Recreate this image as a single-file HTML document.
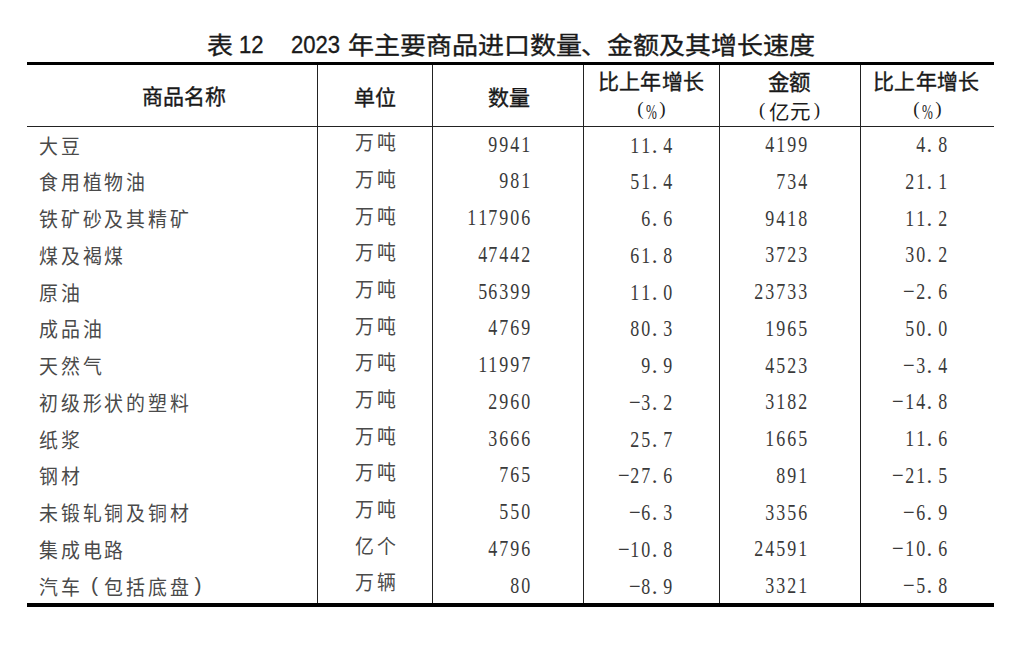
<!DOCTYPE html>
<html lang="zh-CN"><head><meta charset="utf-8"><style>
html,body{margin:0;padding:0;background:#fff;}
body{width:1023px;height:653px;position:relative;overflow:hidden;}
.t{position:absolute;white-space:nowrap;color:#1c1c1c;line-height:1;}
.l{position:absolute;background:#222;}
.sa{font-family:"Liberation Sans",sans-serif;-webkit-text-stroke:0.35px #111;}
.se{font-family:"Liberation Serif",serif;}
.sn{font-family:"Liberation Sans",sans-serif;}
.nm{font-family:"Liberation Sans",sans-serif;font-size:21px;color:#4a4a4a;}
.c{width:21.8px;text-align:center;transform:scale(0.9,0.95);}
.un{font-family:"Liberation Sans",sans-serif;font-size:21px;color:#4a4a4a;}
.nu{font-family:"Liberation Serif",serif;font-size:23px;color:#3a3a3a;}
i{font-style:normal;display:inline-block;}
.d{width:10.9px;text-align:center;transform:scaleX(0.78);}
.p{width:10.9px;text-align:left;padding-left:1px;box-sizing:border-box;}
.m{width:11.4px;text-align:left;transform:scaleX(0.9);transform-origin:0 50%;}
</style></head><body>

<div class="l" style="left:27px;top:62px;width:967px;height:3px;background:#000"></div>
<div class="l" style="left:27px;top:126px;width:967px;height:1px"></div>
<div class="l" style="left:27px;top:603px;width:967px;height:4px;background:#000"></div>
<div class="l" style="left:317px;top:65px;width:1px;height:538px"></div>
<div class="l" style="left:432px;top:65px;width:1px;height:538px"></div>
<div class="l" style="left:583px;top:65px;width:1px;height:538px"></div>
<div class="l" style="left:719px;top:65px;width:1px;height:538px"></div>
<div class="l" style="left:860px;top:65px;width:1px;height:538px"></div>
<div class="t sa" style="left:207.20px;top:33.00px;font-size:26px;transform:scaleY(0.91);transform-origin:0 50%">表</div>
<div class="t sa" style="left:239.40px;top:33.20px;font-size:24.5px;transform:scaleX(0.9);transform-origin:0 0">12</div>
<div class="t sa" style="left:291.20px;top:33.20px;font-size:24.5px;transform:scaleX(0.9);transform-origin:0 0">2023</div>
<div class="t sa" style="left:348.40px;top:32.70px;font-size:26px;transform:scaleY(0.91);transform-origin:0 50%"><i style="width:25.9px;text-align:center">年</i><i style="width:25.9px;text-align:center">主</i><i style="width:25.9px;text-align:center">要</i><i style="width:25.9px;text-align:center">商</i><i style="width:25.9px;text-align:center">品</i><i style="width:25.9px;text-align:center">进</i><i style="width:25.9px;text-align:center">口</i><i style="width:25.9px;text-align:center">数</i><i style="width:25.9px;text-align:center">量</i><i style="width:25.9px;text-align:center">、</i><i style="width:25.9px;text-align:center">金</i><i style="width:25.9px;text-align:center">额</i><i style="width:25.9px;text-align:center">及</i><i style="width:25.9px;text-align:center">其</i><i style="width:25.9px;text-align:center">增</i><i style="width:25.9px;text-align:center">长</i><i style="width:25.9px;text-align:center">速</i><i style="width:25.9px;text-align:center">度</i></div>
<div class="t sa" style="left:141.80px;top:86.40px;font-size:21px"><i style="width:21px;text-align:center">商</i><i style="width:21px;text-align:center">品</i><i style="width:21px;text-align:center">名</i><i style="width:21px;text-align:center">称</i></div>
<div class="t sa" style="left:354.00px;top:86.60px;font-size:21px"><i style="width:21px;text-align:center">单</i><i style="width:21px;text-align:center">位</i></div>
<div class="t sa" style="left:487.60px;top:86.60px;font-size:21px"><i style="width:21px;text-align:center">数</i><i style="width:21px;text-align:center">量</i></div>
<div class="t sa" style="left:597.70px;top:70.90px;font-size:21px"><i style="width:21.3px;text-align:center">比</i><i style="width:21.3px;text-align:center">上</i><i style="width:21.3px;text-align:center">年</i><i style="width:21.3px;text-align:center">增</i><i style="width:21.3px;text-align:center">长</i></div>
<div class="t se" style="left:637.25px;top:99.25px;font-size:19px">(</div>
<div class="t se" style="left:646.25px;top:101.75px;font-size:21px;transform:scaleX(0.62);transform-origin:0 0">%</div>
<div class="t se" style="left:659.25px;top:99.25px;font-size:19px">)</div>
<div class="t sa" style="left:767.90px;top:72.80px;font-size:21.5px"><i style="width:21.5px;text-align:center">金</i><i style="width:21.5px;text-align:center">额</i></div>
<div class="t se" style="left:759.00px;top:99.75px;font-size:19px">(</div>
<div class="t sn" style="left:768.50px;top:103.25px;font-size:20.5px">亿</div>
<div class="t sn" style="left:790.00px;top:102.25px;font-size:20.5px">元</div>
<div class="t se" style="left:813.75px;top:99.75px;font-size:19px">)</div>
<div class="t sa" style="left:873.00px;top:70.90px;font-size:21px"><i style="width:21.3px;text-align:center">比</i><i style="width:21.3px;text-align:center">上</i><i style="width:21.3px;text-align:center">年</i><i style="width:21.3px;text-align:center">增</i><i style="width:21.3px;text-align:center">长</i></div>
<div class="t se" style="left:913.25px;top:99.25px;font-size:19px">(</div>
<div class="t se" style="left:922.25px;top:101.75px;font-size:21px;transform:scaleX(0.62);transform-origin:0 0">%</div>
<div class="t se" style="left:935.25px;top:99.25px;font-size:19px">)</div>
<div class="t nm" style="left:38.00px;top:135.60px"><i class="c">大</i><i class="c">豆</i></div>
<div class="t un" style="left:354.00px;top:132.30px"><i class="c">万</i><i class="c">吨</i></div>
<div class="t nu" style="left:331.00px;width:200px;text-align:right;top:132.50px"><i class="d">9</i><i class="d">9</i><i class="d">4</i><i class="d">1</i></div>
<div class="t nu" style="left:472.60px;width:200px;text-align:right;top:133.50px"><i class="d">1</i><i class="d">1</i><i class="p">.</i><i class="d">4</i></div>
<div class="t nu" style="left:607.40px;width:200px;text-align:right;top:133.10px"><i class="d">4</i><i class="d">1</i><i class="d">9</i><i class="d">9</i></div>
<div class="t nu" style="left:747.40px;width:200px;text-align:right;top:133.10px"><i class="d">4</i><i class="p">.</i><i class="d">8</i></div>
<div class="t nm" style="left:38.00px;top:172.35px"><i class="c">食</i><i class="c">用</i><i class="c">植</i><i class="c">物</i><i class="c">油</i></div>
<div class="t un" style="left:354.00px;top:168.97px"><i class="c">万</i><i class="c">吨</i></div>
<div class="t nu" style="left:331.00px;width:200px;text-align:right;top:169.25px"><i class="d">9</i><i class="d">8</i><i class="d">1</i></div>
<div class="t nu" style="left:472.60px;width:200px;text-align:right;top:170.25px"><i class="d">5</i><i class="d">1</i><i class="p">.</i><i class="d">4</i></div>
<div class="t nu" style="left:607.40px;width:200px;text-align:right;top:169.85px"><i class="d">7</i><i class="d">3</i><i class="d">4</i></div>
<div class="t nu" style="left:747.40px;width:200px;text-align:right;top:169.85px"><i class="d">2</i><i class="d">1</i><i class="p">.</i><i class="d">1</i></div>
<div class="t nm" style="left:38.00px;top:209.10px"><i class="c">铁</i><i class="c">矿</i><i class="c">砂</i><i class="c">及</i><i class="c">其</i><i class="c">精</i><i class="c">矿</i></div>
<div class="t un" style="left:354.00px;top:205.64px"><i class="c">万</i><i class="c">吨</i></div>
<div class="t nu" style="left:331.00px;width:200px;text-align:right;top:206.00px"><i class="d">1</i><i class="d">1</i><i class="d">7</i><i class="d">9</i><i class="d">0</i><i class="d">6</i></div>
<div class="t nu" style="left:472.60px;width:200px;text-align:right;top:207.00px"><i class="d">6</i><i class="p">.</i><i class="d">6</i></div>
<div class="t nu" style="left:607.40px;width:200px;text-align:right;top:206.60px"><i class="d">9</i><i class="d">4</i><i class="d">1</i><i class="d">8</i></div>
<div class="t nu" style="left:747.40px;width:200px;text-align:right;top:206.60px"><i class="d">1</i><i class="d">1</i><i class="p">.</i><i class="d">2</i></div>
<div class="t nm" style="left:38.00px;top:245.85px"><i class="c">煤</i><i class="c">及</i><i class="c">褐</i><i class="c">煤</i></div>
<div class="t un" style="left:354.00px;top:242.31px"><i class="c">万</i><i class="c">吨</i></div>
<div class="t nu" style="left:331.00px;width:200px;text-align:right;top:242.75px"><i class="d">4</i><i class="d">7</i><i class="d">4</i><i class="d">4</i><i class="d">2</i></div>
<div class="t nu" style="left:472.60px;width:200px;text-align:right;top:243.75px"><i class="d">6</i><i class="d">1</i><i class="p">.</i><i class="d">8</i></div>
<div class="t nu" style="left:607.40px;width:200px;text-align:right;top:243.35px"><i class="d">3</i><i class="d">7</i><i class="d">2</i><i class="d">3</i></div>
<div class="t nu" style="left:747.40px;width:200px;text-align:right;top:243.35px"><i class="d">3</i><i class="d">0</i><i class="p">.</i><i class="d">2</i></div>
<div class="t nm" style="left:38.00px;top:282.60px"><i class="c">原</i><i class="c">油</i></div>
<div class="t un" style="left:354.00px;top:278.98px"><i class="c">万</i><i class="c">吨</i></div>
<div class="t nu" style="left:331.00px;width:200px;text-align:right;top:279.50px"><i class="d">5</i><i class="d">6</i><i class="d">3</i><i class="d">9</i><i class="d">9</i></div>
<div class="t nu" style="left:472.60px;width:200px;text-align:right;top:280.50px"><i class="d">1</i><i class="d">1</i><i class="p">.</i><i class="d">0</i></div>
<div class="t nu" style="left:607.40px;width:200px;text-align:right;top:280.10px"><i class="d">2</i><i class="d">3</i><i class="d">7</i><i class="d">3</i><i class="d">3</i></div>
<div class="t nu" style="left:747.40px;width:200px;text-align:right;top:280.10px"><i class="m">−</i><i class="d">2</i><i class="p">.</i><i class="d">6</i></div>
<div class="t nm" style="left:38.00px;top:319.35px"><i class="c">成</i><i class="c">品</i><i class="c">油</i></div>
<div class="t un" style="left:354.00px;top:315.65px"><i class="c">万</i><i class="c">吨</i></div>
<div class="t nu" style="left:331.00px;width:200px;text-align:right;top:316.25px"><i class="d">4</i><i class="d">7</i><i class="d">6</i><i class="d">9</i></div>
<div class="t nu" style="left:472.60px;width:200px;text-align:right;top:317.25px"><i class="d">8</i><i class="d">0</i><i class="p">.</i><i class="d">3</i></div>
<div class="t nu" style="left:607.40px;width:200px;text-align:right;top:316.85px"><i class="d">1</i><i class="d">9</i><i class="d">6</i><i class="d">5</i></div>
<div class="t nu" style="left:747.40px;width:200px;text-align:right;top:316.85px"><i class="d">5</i><i class="d">0</i><i class="p">.</i><i class="d">0</i></div>
<div class="t nm" style="left:38.00px;top:356.10px"><i class="c">天</i><i class="c">然</i><i class="c">气</i></div>
<div class="t un" style="left:354.00px;top:352.32px"><i class="c">万</i><i class="c">吨</i></div>
<div class="t nu" style="left:331.00px;width:200px;text-align:right;top:353.00px"><i class="d">1</i><i class="d">1</i><i class="d">9</i><i class="d">9</i><i class="d">7</i></div>
<div class="t nu" style="left:472.60px;width:200px;text-align:right;top:354.00px"><i class="d">9</i><i class="p">.</i><i class="d">9</i></div>
<div class="t nu" style="left:607.40px;width:200px;text-align:right;top:353.60px"><i class="d">4</i><i class="d">5</i><i class="d">2</i><i class="d">3</i></div>
<div class="t nu" style="left:747.40px;width:200px;text-align:right;top:353.60px"><i class="m">−</i><i class="d">3</i><i class="p">.</i><i class="d">4</i></div>
<div class="t nm" style="left:38.00px;top:392.85px"><i class="c">初</i><i class="c">级</i><i class="c">形</i><i class="c">状</i><i class="c">的</i><i class="c">塑</i><i class="c">料</i></div>
<div class="t un" style="left:354.00px;top:388.99px"><i class="c">万</i><i class="c">吨</i></div>
<div class="t nu" style="left:331.00px;width:200px;text-align:right;top:389.75px"><i class="d">2</i><i class="d">9</i><i class="d">6</i><i class="d">0</i></div>
<div class="t nu" style="left:472.60px;width:200px;text-align:right;top:390.75px"><i class="m">−</i><i class="d">3</i><i class="p">.</i><i class="d">2</i></div>
<div class="t nu" style="left:607.40px;width:200px;text-align:right;top:390.35px"><i class="d">3</i><i class="d">1</i><i class="d">8</i><i class="d">2</i></div>
<div class="t nu" style="left:747.40px;width:200px;text-align:right;top:390.35px"><i class="m">−</i><i class="d">1</i><i class="d">4</i><i class="p">.</i><i class="d">8</i></div>
<div class="t nm" style="left:38.00px;top:429.60px"><i class="c">纸</i><i class="c">浆</i></div>
<div class="t un" style="left:354.00px;top:425.66px"><i class="c">万</i><i class="c">吨</i></div>
<div class="t nu" style="left:331.00px;width:200px;text-align:right;top:426.50px"><i class="d">3</i><i class="d">6</i><i class="d">6</i><i class="d">6</i></div>
<div class="t nu" style="left:472.60px;width:200px;text-align:right;top:427.50px"><i class="d">2</i><i class="d">5</i><i class="p">.</i><i class="d">7</i></div>
<div class="t nu" style="left:607.40px;width:200px;text-align:right;top:427.10px"><i class="d">1</i><i class="d">6</i><i class="d">6</i><i class="d">5</i></div>
<div class="t nu" style="left:747.40px;width:200px;text-align:right;top:427.10px"><i class="d">1</i><i class="d">1</i><i class="p">.</i><i class="d">6</i></div>
<div class="t nm" style="left:38.00px;top:466.35px"><i class="c">钢</i><i class="c">材</i></div>
<div class="t un" style="left:354.00px;top:462.33px"><i class="c">万</i><i class="c">吨</i></div>
<div class="t nu" style="left:331.00px;width:200px;text-align:right;top:463.25px"><i class="d">7</i><i class="d">6</i><i class="d">5</i></div>
<div class="t nu" style="left:472.60px;width:200px;text-align:right;top:464.25px"><i class="m">−</i><i class="d">2</i><i class="d">7</i><i class="p">.</i><i class="d">6</i></div>
<div class="t nu" style="left:607.40px;width:200px;text-align:right;top:463.85px"><i class="d">8</i><i class="d">9</i><i class="d">1</i></div>
<div class="t nu" style="left:747.40px;width:200px;text-align:right;top:463.85px"><i class="m">−</i><i class="d">2</i><i class="d">1</i><i class="p">.</i><i class="d">5</i></div>
<div class="t nm" style="left:38.00px;top:503.10px"><i class="c">未</i><i class="c">锻</i><i class="c">轧</i><i class="c">铜</i><i class="c">及</i><i class="c">铜</i><i class="c">材</i></div>
<div class="t un" style="left:354.00px;top:499.00px"><i class="c">万</i><i class="c">吨</i></div>
<div class="t nu" style="left:331.00px;width:200px;text-align:right;top:500.00px"><i class="d">5</i><i class="d">5</i><i class="d">0</i></div>
<div class="t nu" style="left:472.60px;width:200px;text-align:right;top:501.00px"><i class="m">−</i><i class="d">6</i><i class="p">.</i><i class="d">3</i></div>
<div class="t nu" style="left:607.40px;width:200px;text-align:right;top:500.60px"><i class="d">3</i><i class="d">3</i><i class="d">5</i><i class="d">6</i></div>
<div class="t nu" style="left:747.40px;width:200px;text-align:right;top:500.60px"><i class="m">−</i><i class="d">6</i><i class="p">.</i><i class="d">9</i></div>
<div class="t nm" style="left:38.00px;top:539.85px"><i class="c">集</i><i class="c">成</i><i class="c">电</i><i class="c">路</i></div>
<div class="t un" style="left:354.00px;top:535.67px"><i class="c">亿</i><i class="c">个</i></div>
<div class="t nu" style="left:331.00px;width:200px;text-align:right;top:536.75px"><i class="d">4</i><i class="d">7</i><i class="d">9</i><i class="d">6</i></div>
<div class="t nu" style="left:472.60px;width:200px;text-align:right;top:537.75px"><i class="m">−</i><i class="d">1</i><i class="d">0</i><i class="p">.</i><i class="d">8</i></div>
<div class="t nu" style="left:607.40px;width:200px;text-align:right;top:537.35px"><i class="d">2</i><i class="d">4</i><i class="d">5</i><i class="d">9</i><i class="d">1</i></div>
<div class="t nu" style="left:747.40px;width:200px;text-align:right;top:537.35px"><i class="m">−</i><i class="d">1</i><i class="d">0</i><i class="p">.</i><i class="d">6</i></div>
<div class="t nm" style="left:38.00px;top:576.60px"><i class="c">汽</i><i class="c">车</i><i class="c" style="position:relative;left:2px;top:-3px;font-size:21px;transform:none">(</i><i class="c">包</i><i class="c">括</i><i class="c">底</i><i class="c">盘</i><i class="c" style="position:relative;left:-3.5px;top:-3px;font-size:21px;transform:none">)</i></div>
<div class="t un" style="left:354.00px;top:572.34px"><i class="c">万</i><i class="c">辆</i></div>
<div class="t nu" style="left:331.00px;width:200px;text-align:right;top:573.50px"><i class="d">8</i><i class="d">0</i></div>
<div class="t nu" style="left:472.60px;width:200px;text-align:right;top:574.50px"><i class="m">−</i><i class="d">8</i><i class="p">.</i><i class="d">9</i></div>
<div class="t nu" style="left:607.40px;width:200px;text-align:right;top:574.10px"><i class="d">3</i><i class="d">3</i><i class="d">2</i><i class="d">1</i></div>
<div class="t nu" style="left:747.40px;width:200px;text-align:right;top:574.10px"><i class="m">−</i><i class="d">5</i><i class="p">.</i><i class="d">8</i></div>
</body></html>
